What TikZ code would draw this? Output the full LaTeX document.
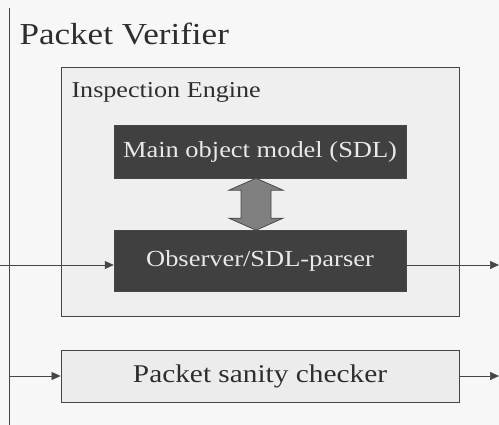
\documentclass[tikz,border=0pt]{standalone}
\usepackage{fontspec}
\setmainfont{Liberation Serif}
\usepackage{tikz}
\usetikzlibrary{arrows.meta,positioning,calc}
\definecolor{pagegrey}{RGB}{247,247,247}
\definecolor{enginegrey}{RGB}{239,239,239}
\definecolor{darkbox}{RGB}{64,64,64}
\definecolor{lighttext}{RGB}{232,232,232}
\definecolor{checkgrey}{RGB}{236,236,236}
\definecolor{linegrey}{RGB}{70,70,70}
\definecolor{fatgrey}{RGB}{128,128,128}
\newcommand{\wide}[1]{\scalebox{1.15}[1]{#1}}

\begin{document}
\begin{tikzpicture}[
			x=1pt, y=-1pt,
			darkbox/.style={rectangle, draw=linegrey, fill=darkbox, text=lighttext, minimum width=292pt, font=\fontsize{23}{27}\selectfont},
			framebox/.style={rectangle, draw=linegrey, line width=0.8pt},
			arrow/.style={-{Triangle[length=9pt,width=8pt]}, draw=linegrey, line width=0.7pt},
			fatarrow/.style={draw=linegrey, fill=fatgrey, line width=0.8pt, line join=miter}
			]
			% Background
			\fill[pagegrey] (0,0) rectangle (499,425);
			\useasboundingbox (0,0) rectangle (499,425);
			\draw[linegrey, line width=0.8pt] (9,8) -- (9,425);
			
			% Nodes
			\node[anchor=base west, text=black!82, font=\fontsize{30.5}{36}\selectfont] (title) at (16,45) {\wide{Packet Verifier}};
			\node[framebox, fill=enginegrey, minimum width=398pt, minimum height=249pt, anchor=north west] (engine) at (61,67) {};
			\node[anchor=base west, text=black!82, font=\fontsize{22.7}{27}\selectfont] (enginelabel) at (68,98) {\wide{Inspection Engine}};
			\node[darkbox, minimum height=53pt] (model) at (260,151.5) {\wide{Main object model (SDL)}};
			\node[darkbox, minimum height=61pt, below=52pt of model] (observer) {\wide{Observer/SDL-parser}};
			\node[framebox, fill=checkgrey, minimum width=398pt, minimum height=52pt, text=black!82, font=\fontsize{25.5}{30}\selectfont] (checker) at (260,376) {\wide{Packet sanity checker}};
			
			% Free ends
			\coordinate (obsin) at (0,265);
			\coordinate (obsout) at (499,265);
			\coordinate (chkin) at (9,376);
			\coordinate (chkout) at (499,376);
			
			% Arrows
			\draw[fatarrow] ($(model.south)+(-4,0)$) -- ++(27,12) -- ++(-12,0) -- ($(observer.north)+(11,-12)$) -- ++(12,0) -- ($(observer.north)+(-4,0)$) -- ++(-27,-12) -- ++(12,0) -- ($(model.south)+(-19,12)$) -- ++(-12,0) -- cycle;
			\draw[arrow] (obsin) -- (obsin -| observer.west);
			\draw[arrow] (obsout -| observer.east) -- (obsout);
			\draw[arrow] (chkin) -- (checker.west);
			\draw[arrow] (checker.east) -- (chkout);
		\end{tikzpicture}
\end{document}
